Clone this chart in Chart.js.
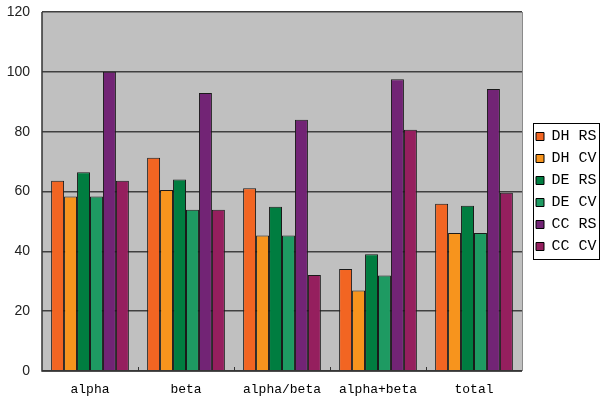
<!DOCTYPE html>
<html>
<head>
<meta charset="utf-8">
<script src="https://cdn.jsdelivr.net/npm/chart.js@4"></script>
<style>
  html, body { margin: 0; padding: 0; background: #fff; }
  #wrap { width: 600px; height: 401px; position: relative; }
</style>
</head>
<body>
<div id="wrap"><canvas id="chart"></canvas></div>
<script>
// categories and series
const categories = ["alpha", "beta", "alpha/beta", "alpha+beta", "total"];
const seriesNames = ["DH RS", "DH CV", "DE RS", "DE CV", "CC RS", "CC CV"];
const dhRS = [63.6, 71.3, 61.1, 34.1, 55.9];
const dhCV = [58.3, 60.5, 45.3, 26.9, 46.1];
const deRS = [66.4, 64.0, 54.9, 39.0, 55.2];
const deCV = [58.3, 53.9, 45.3, 31.9, 46.1];
const ccRS = [100.0, 92.9, 84.0, 97.5, 94.3];
const ccCV = [63.6, 53.9, 32.1, 80.6, 59.6];
const yTicks = [0, 20, 40, 60, 80, 100, 120];

const colors = ["#F26522", "#F7941D", "#007D40", "#1E9A62", "#722475", "#951F5E"];
const seriesValues = [dhRS, dhCV, deRS, deCV, ccRS, ccCV];

// gray plot background + inward tick marks + legend frame
const decor = {
    id: "decor",
    afterInit(chart) {
        const legend = chart.legend;
        const fit = legend.fit;
        legend.fit = function () {
            fit.call(this);
            this.width = 78;
        };
    },
    afterLayout(chart) {
        chart.legend.left += 7;
        chart.legend.right += 7;
    },
    beforeDraw(chart) {
        const { ctx, chartArea: a } = chart;
        ctx.save();
        ctx.fillStyle = "#C0C0C0";
        ctx.fillRect(a.left, a.top, a.right - a.left, a.bottom - a.top);
        ctx.restore();
    },
    afterDatasetsDraw(chart) {
        const { ctx, chartArea: a, scales } = chart;
        const x = scales.x;
        const step = (a.right - a.left) / categories.length;
        ctx.save();
        ctx.strokeStyle = "#333";
        ctx.lineWidth = 1;
        for (let i = 1; i < categories.length; i++) {
            const px = Math.round(x.getPixelForValue(i) - step / 2) + 0.5;
            ctx.beginPath();
            ctx.moveTo(px, a.bottom);
            ctx.lineTo(px, a.bottom - 4);
            ctx.stroke();
        }
        // axis lines
        ctx.lineWidth = 1.5;
        ctx.strokeStyle = "#333";
        ctx.beginPath();
        ctx.moveTo(a.left, a.top);
        ctx.lineTo(a.left, a.bottom);
        ctx.lineTo(a.right, a.bottom);
        ctx.stroke();
        ctx.strokeStyle = "#8a8a8a";
        ctx.lineWidth = 1;
        ctx.beginPath();
        ctx.moveTo(a.right + 0.5, a.top);
        ctx.lineTo(a.right + 0.5, a.bottom);
        ctx.stroke();
        ctx.restore();
    },
    afterDraw(chart) {
        const boxes = chart.legend.legendHitBoxes;
        if (!boxes || !boxes.length) return;
        const first = boxes[0], last = boxes[boxes.length - 1];
        const top = first.top + first.height / 2 - 14;
        const bottom = last.top + last.height / 2 + 12;
        const left = Math.min(...boxes.map(b => b.left)) - 3;
        const ctx = chart.ctx;
        ctx.save();
        ctx.strokeStyle = "#000";
        ctx.lineWidth = 1;
        ctx.strokeRect(Math.round(left) + 0.5, Math.round(top) + 0.5, 66, Math.round(bottom - top));
        ctx.restore();
    }
};

new Chart(document.getElementById("chart"), {
    type: "bar",
    data: {
        labels: categories,
        datasets: seriesNames.map((name, i) => ({
            label: name,
            data: seriesValues[i],
            backgroundColor: colors[i],
            borderColor: "#1a1a1a",
            borderWidth: 1,
            borderSkipped: "bottom",
            categoryPercentage: 0.81,
            barPercentage: 1.0
        }))
    },
    options: {
        responsive: true,
        maintainAspectRatio: false,
        animation: false,
        layout: { padding: { top: 12, right: 0, left: 0, bottom: 0 } },
        plugins: {
            tooltip: { enabled: false },
            legend: {
                position: "right",
                fullSize: false,
                labels: {
                    boxWidth: 8,
                    boxHeight: 8,
                    padding: 7,
                    color: "#000",
                    font: { family: "Liberation Mono", size: 15 },
                    generateLabels(chart) {
                        return chart.data.datasets.map((ds, i) => ({
                            text: ds.label,
                            fillStyle: ds.backgroundColor,
                            strokeStyle: "#000",
                            lineWidth: 1,
                            datasetIndex: i
                        }));
                    }
                }
            }
        },
        scales: {
            x: {
                grid: { display: false, drawTicks: false },
                border: { display: false },
                afterFit(scale) {
                    scale.height = 30;
                    scale.paddingBottom = 0;
                },
                ticks: {
                    color: "#000",
                    padding: 11,
                    font: { family: "Liberation Mono", size: 13 }
                }
            },
            y: {
                min: 0,
                max: 120,
                afterBuildTicks(scale) {
                    scale.ticks = yTicks.map(v => ({ value: v }));
                },
                afterFit(scale) {
                    scale.width = 42;
                    scale.paddingTop = 0;
                    scale.paddingBottom = 0;
                },
                grid: {
                    color: "#404040",
                    lineWidth: 1.5,
                    drawTicks: false
                },
                border: { display: false },
                ticks: {
                    color: "#222",
                    padding: 12,
                    font: { family: "Liberation Sans", size: 14 }
                }
            }
        }
    },
    plugins: [decor]
});
</script>
</body>
</html>
